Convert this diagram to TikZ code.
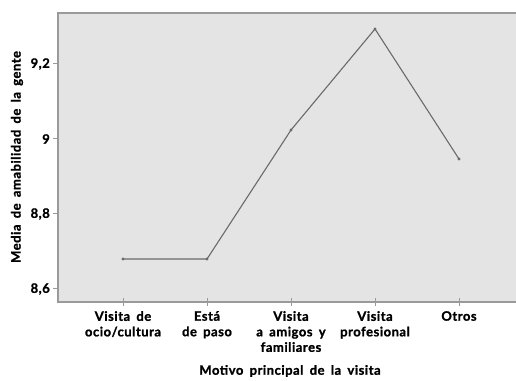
\documentclass[tikz,border=0pt]{standalone}
\usepackage{fontspec}
\setmainfont{Lato}[BoldFeatures={FakeBold=1.2, LetterSpace=4, WordSpace=1.7}]
\definecolor{panel}{HTML}{E4E4E4}
\definecolor{frame}{HTML}{9A9A9A}
\definecolor{trace}{HTML}{6A6A6A}

\tikzset{
  ticklabel/.style={font=\fontsize{13}{15.5}\selectfont\bfseries, align=center, inner sep=0pt},
  dot/.style={circle, fill=trace, inner sep=0pt, minimum size=3.2pt}
}

\begin{document}
\begin{tikzpicture}[x=1pt,y=1pt]
    \useasboundingbox (0,0) rectangle (516,380);
    \fill [white] (0,0) rectangle (516,380);
    \fill [panel] (58,78) rectangle (520,367);
    \draw [frame, line width=1.4pt] (520,367) -- (58,367) -- (58,78) -- (520,78);
    % y ticks
    \draw [frame, line width=1pt] (53,316) -- (58,316);
    \draw [frame, line width=1pt] (53,241) -- (58,241);
    \draw [frame, line width=1pt] (53,166) -- (58,166);
    \draw [frame, line width=1pt] (53,91) -- (58,91);
    \node[ticklabel, anchor=east] (y92) at (50,316) {9,2};
    \node[ticklabel, anchor=east] (y90) at (50,241) {9};
    \node[ticklabel, anchor=east] (y88) at (50,166) {8,8};
    \node[ticklabel, anchor=east] (y86) at (50,91) {8,6};
    % x ticks
    \draw [frame, line width=1pt] (123,74) -- (123,82);
    \draw [frame, line width=1pt] (207,74) -- (207,82);
    \draw [frame, line width=1pt] (291,74) -- (291,82);
    \draw [frame, line width=1pt] (375,74) -- (375,82);
    \draw [frame, line width=1pt] (459,74) -- (459,82);
    \node[ticklabel, anchor=north] (ocio) at (123,69) {Visita de\\ocio/cultura};
    \node[ticklabel, anchor=north] (paso) at (207,69) {Está\\de paso};
    \node[ticklabel, anchor=north] (amigos) at (291,69) {Visita\\a amigos y\\familiares};
    \node[ticklabel, anchor=north] (prof) at (375,69) {Visita\\profesional};
    \node[ticklabel, anchor=north] (otros) at (459,69) {Otros};
    % data
    \node[dot] (p1) at (123,121) {};
    \node[dot] (p2) at (207,121) {};
    \node[dot] (p3) at (291,250) {};
    \node[dot] (p4) at (375,351) {};
    \node[dot] (p5) at (459,221) {};
    \draw [trace, line width=1.1pt] (p1.center) -- (p2.center) -- (p3.center) -- (p4.center) -- (p5.center);
    % axis titles
    \node[ticklabel] (xtitle) at (290,9) {Motivo principal de la visita};
    \node[ticklabel, rotate=90] (ytitle) at (17,223) {Media de amabilidad de la gente};
  \end{tikzpicture}
\end{document}
